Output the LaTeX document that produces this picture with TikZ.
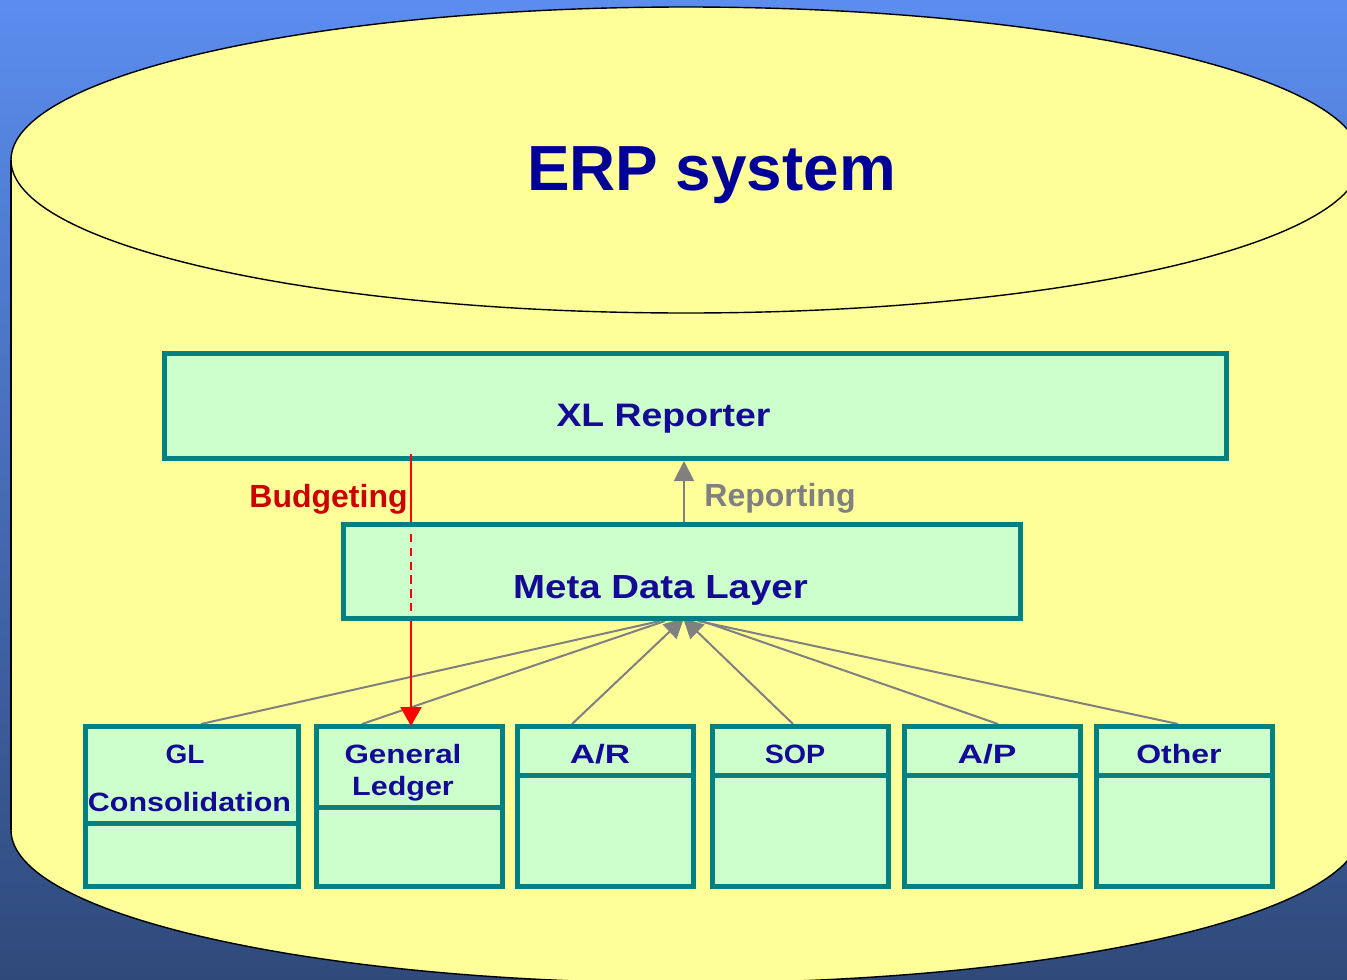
\documentclass[tikz,border=0pt]{standalone}
\usepackage{fontspec}
\setmainfont{Liberation Sans}
\newfontfamily\widefont[FakeStretch=1.15]{Liberation Sans}
\usetikzlibrary{arrows.meta}
\definecolor{bgtop}{HTML}{5B8DEF}
\definecolor{bgbot}{HTML}{2F4A7A}
\definecolor{cyl}{HTML}{FFFF99}
\definecolor{boxfill}{HTML}{CCFFCC}
\definecolor{teal2}{HTML}{008080}
\definecolor{navy2}{HTML}{000099}
\definecolor{labelblue}{HTML}{140A96}
\definecolor{budget}{HTML}{CC0000}
\definecolor{redline}{HTML}{FF0000}
\definecolor{grayline}{HTML}{808080}
\pgfdeclarelayer{cylinder}
\pgfdeclarelayer{links}
\pgfdeclarelayer{front}
\pgfsetlayers{cylinder,links,main,front}
\tikzset{
  x=1pt,y=-1pt,
  bigbox/.style={draw=teal2,fill=boxfill,line width=5pt,inner sep=0pt,anchor=north west},
  lbl/.style={font=\widefont\bfseries\fontsize{32.5}{36}\selectfont,text=labelblue,anchor=base,inner sep=0pt},
  smalllbl/.style={font=\widefont\bfseries\fontsize{26.5}{30}\selectfont,text=labelblue,anchor=base,inner sep=0pt},
  divider/.style={draw=teal2,line width=5pt},
  graylink/.style={draw=grayline,line width=2pt},
  grayarrow/.style={graylink,-{Triangle[length=20pt,width=20pt]}},
  redlink/.style={draw=redline,line width=2pt},
}
\newcommand{\smallbox}[4]{% name, x1, x2, y of the divider
  \node[bigbox,minimum width=#3-#2-5,minimum height=160] (#1) at (#2,724) {};
  \draw[divider] (#2,#4) -- (#3-4,#4);
}
\begin{document}
\begin{tikzpicture}
\useasboundingbox (0,0) rectangle (1347,980);
\begin{pgfonlayer}{cylinder}
  \shade[top color=bgtop,bottom color=bgbot,shading angle=0] (0,0) rectangle (1347,980);
  \begin{scope}
    \clip (0,0) rectangle (1347,980);
    \filldraw[fill=cyl,draw=black,line width=1.4pt]
      (11,160) -- (11,830) arc[start angle=180,end angle=360,x radius=675,y radius=-153]
      -- (1361,160) arc[start angle=0,end angle=180,x radius=675,y radius=-153] -- cycle;
    \draw[black,line width=1.4pt] (11,160) arc[start angle=180,end angle=360,x radius=675,y radius=-153];
    \draw[black,line width=2.4pt] (11,160) -- (11,830);
  \end{scope}
\end{pgfonlayer}

\node[anchor=base,inner sep=0pt,font=\bfseries\fontsize{63.8}{70}\selectfont,text=navy2] (title) at (711.5,190) {ERP system};

\node[bigbox,minimum width=1062,minimum height=105] (xl) at (162,351) {};
\node[bigbox,minimum width=677,minimum height=94] (meta) at (341,522) {};

\smallbox{gl}{83}{301}{823}
\smallbox{gen}{314}{505}{807}
\smallbox{ar}{515}{696}{775}
\smallbox{sop}{710}{891}{775}
\smallbox{ap}{902}{1083}{775}
\smallbox{oth}{1094}{1275}{775}

\node[lbl] (xllabel) at (663.5,426) {XL Reporter};
\node[lbl,font=\widefont\bfseries\fontsize{33.4}{36}\selectfont] (metalabel) at (660.5,598) {Meta Data Layer};
\node[smalllbl] (gl1) at (185,763) {\scalebox{0.92}[1]{GL}};
\node[smalllbl] (gl2) at (189.5,811) {Consolidation};
\node[smalllbl] (gen1) at (403,763) {\scalebox{1.03}[1]{General}};
\node[smalllbl] (gen2) at (403,795) {Ledger};
\node[smalllbl] (arl) at (600,763) {\scalebox{1.15}[1]{A/R}};
\node[smalllbl] (sopl) at (795,763) {\scalebox{0.94}[1]{SOP}};
\node[smalllbl] (apl) at (987,763) {\scalebox{1.16}[1]{A/P}};
\node[smalllbl] (othl) at (1179,763) {\scalebox{1.05}[1]{Other}};
\node[anchor=base,inner sep=0pt,font=\bfseries\fontsize{32}{36}\selectfont,text=budget] (budgeting) at (328.5,507) {Budgeting};
\node[anchor=base,inner sep=0pt,font=\bfseries\fontsize{32}{36}\selectfont,text=grayline] (reporting) at (780,506) {Reporting};

\begin{pgfonlayer}{links}
  \draw[graylink] ([xshift=9]gl.north) -- ([xshift=-22]meta.south);
  \draw[graylink] ([xshift=-47.5]gen.north) -- ([xshift=-17]meta.south);
  \draw[grayarrow] ([xshift=-33.5]ar.north) -- ([xshift=2,yshift=3]meta.south);
  \draw[grayarrow] ([xshift=-7.5]sop.north) -- ([xshift=1,yshift=3]meta.south);
  \draw[graylink] ([xshift=5.5]ap.north) -- ([xshift=20]meta.south);
  \draw[graylink] ([xshift=-6.5]oth.north) -- ([xshift=16]meta.south);
  \draw[grayarrow] ([xshift=2]meta.north) -- ([xshift=2]meta.north |- xl.south);
\end{pgfonlayer}

\begin{pgfonlayer}{front}
  \draw[redlink] (xl.south -| gen.north) ++(1.5,-7) -- ([xshift=1.5]meta.north -| gen.north);
  \draw[redlink,dash pattern=on 8.3pt off 5.5pt] ([xshift=1.5,yshift=-12]meta.north -| gen.north) -- ([xshift=1.5,yshift=10]meta.south -| gen.north);
  \draw[redlink,-{Triangle[length=19pt,width=21pt]}] ([xshift=1.5]meta.south -| gen.north) -- ([xshift=1.5,yshift=-2]gen.north);
\end{pgfonlayer}
\end{tikzpicture}
\end{document}
